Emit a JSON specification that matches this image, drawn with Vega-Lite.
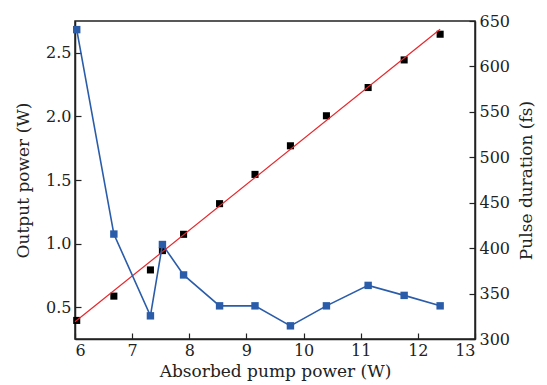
{
  "$schema": "https://vega.github.io/schema/vega-lite/v6.json",
  "width": 400,
  "height": 318,
  "autosize": {"type": "none"},
  "padding": {"left": 75, "top": 21, "right": 72, "bottom": 46},
  "background": "white",
  "config": {
    "view": {"stroke": "#222", "strokeWidth": 1.5},
    "font": "DejaVu Serif",
    "axis": {
      "grid": false,
      "domainColor": "#222",
      "domainWidth": 1.5,
      "tickColor": "#222",
      "tickSize": -6,
      "tickWidth": 1.2,
      "labelFont": "DejaVu Serif",
      "labelFontSize": 16,
      "labelColor": "#222",
      "titleFont": "DejaVu Serif",
      "titleFontSize": 17,
      "titleFontWeight": "normal",
      "titleColor": "#222"
    }
  },
  "datasets": {
    "power": [
      {"pump": 6.03, "power": 0.396},
      {"pump": 6.68, "power": 0.587},
      {"pump": 7.32, "power": 0.793},
      {"pump": 7.53, "power": 0.945},
      {"pump": 7.9, "power": 1.073},
      {"pump": 8.53, "power": 1.314},
      {"pump": 9.15, "power": 1.544},
      {"pump": 9.77, "power": 1.769},
      {"pump": 10.4, "power": 2.005},
      {"pump": 11.13, "power": 2.227},
      {"pump": 11.76, "power": 2.444},
      {"pump": 12.39, "power": 2.646}
    ],
    "fit": [
      {"pump": 6.0, "power": 0.385},
      {"pump": 12.39, "power": 2.685}
    ],
    "duration": [
      {"pump": 6.03, "duration": 640.5},
      {"pump": 6.68, "duration": 415.5},
      {"pump": 7.32, "duration": 325.5},
      {"pump": 7.53, "duration": 404},
      {"pump": 7.9, "duration": 370.5},
      {"pump": 8.53, "duration": 336.5},
      {"pump": 9.15, "duration": 336.5},
      {"pump": 9.77, "duration": 314.5},
      {"pump": 10.4, "duration": 336.5},
      {"pump": 11.13, "duration": 359},
      {"pump": 11.76, "duration": 348},
      {"pump": 12.39, "duration": 336.5}
    ]
  },
  "encoding": {
    "x": {
      "field": "pump",
      "type": "quantitative",
      "scale": {"domain": [6, 13], "nice": false},
      "axis": {
        "title": "Absorbed pump power (W)",
        "values": [6, 7, 8, 9, 10, 11, 12, 13],
        "labelPadding": 9,
        "titlePadding": 5
      }
    }
  },
  "layer": [
    {
      "layer": [
        {
          "data": {"name": "power"},
          "mark": {"type": "square", "size": 50, "color": "#000", "opacity": 1},
          "encoding": {
            "y": {
              "field": "power",
              "type": "quantitative",
              "scale": {"domain": [0.25, 2.75], "nice": false, "zero": false},
              "axis": {
                "title": "Output power (W)",
                "values": [0.5, 1.0, 1.5, 2.0, 2.5],
                "format": ".1f",
                "labelPadding": 10,
                "titlePadding": 13
              }
            }
          }
        },
        {
          "data": {"name": "fit"},
          "mark": {"type": "line", "color": "#e8262b", "strokeWidth": 1.2},
          "encoding": {
            "y": {"field": "power", "type": "quantitative"}
          }
        }
      ]
    },
    {
      "data": {"name": "duration"},
      "layer": [
        {
          "mark": {"type": "line", "color": "#2a5caa", "strokeWidth": 1.6},
          "encoding": {
            "y": {
              "field": "duration",
              "type": "quantitative",
              "scale": {"domain": [300, 650], "nice": false, "zero": false},
              "axis": {
                "orient": "right",
                "title": "Pulse duration (fs)",
                "titleAngle": -90,
                "values": [300, 350, 400, 450, 500, 550, 600, 650],
                "labelPadding": 10,
                "titlePadding": 26
              }
            }
          }
        },
        {
          "mark": {"type": "square", "size": 55, "color": "#2a5caa", "opacity": 1},
          "encoding": {
            "y": {"field": "duration", "type": "quantitative"}
          }
        }
      ]
    }
  ],
  "resolve": {"scale": {"y": "independent"}}
}
